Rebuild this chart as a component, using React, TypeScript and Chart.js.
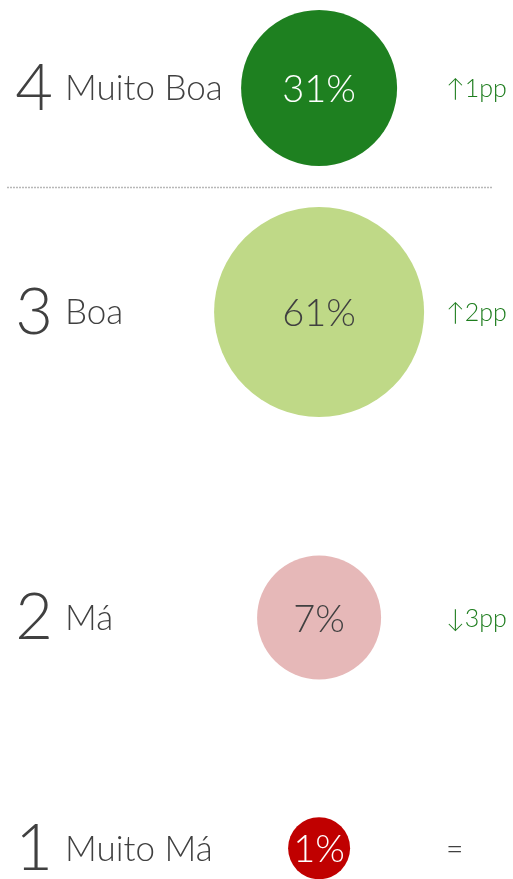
import React, { useEffect, useRef } from "react";
import { Chart, registerables } from "chart.js";

Chart.register(...registerables);

const ranks = ["4", "3", "2", "1"];
const categories = ["Muito Boa", "Boa", "Má", "Muito Má"];
const shares = [31, 61, 7, 1];
const changes = ["↑1pp", "↑2pp", "↓3pp", "="];
const rowLevel = [3.6, 2.58, 1.19, 0.14];

const bubbleColors = ["#1e8020", "#bfd987", "#e6b8b8", "#c00000"];
const bubbleRadius = [78, 105, 62, 31];
const valueColors = ["#ffffff", "#404040", "#404040", "#ffffff"];
const changeColors = ["#1e7d1e", "#1e7d1e", "#1e7d1e", "#404040"];
const FONT = "Lato, 'Open Sans', sans-serif";

const labelPlugin = {
  id: "rowLabels",
  afterDatasetsDraw(chart: any) {
    const ctx = chart.ctx;
    const yScale = chart.scales.y;
    const xScale = chart.scales.x;
    ctx.save();
    const ySep = (yScale.getPixelForValue(rowLevel[0]) + yScale.getPixelForValue(rowLevel[1])) / 2 - 13;
    ctx.strokeStyle = "#b8b8b8";
    ctx.lineWidth = 1.3;
    ctx.setLineDash([2, 1]);
    ctx.beginPath();
    ctx.moveTo(7, Math.round(ySep) + 0.5);
    ctx.lineTo(492, Math.round(ySep) + 0.5);
    ctx.stroke();
    ctx.setLineDash([]);

    ranks.forEach((r, i) => {
      const y = yScale.getPixelForValue(rowLevel[i]);
      const x = xScale.getPixelForValue(0.622);
      ctx.textBaseline = "middle";
      ctx.fillStyle = "#404040";
      ctx.font = `300 65px ${FONT}`;
      ctx.textAlign = "center";
      ctx.fillText(r, 34, y + 1);
      ctx.font = `300 35px ${FONT}`;
      ctx.textAlign = "left";
      ctx.fillText(categories[i], 65, y + 1);
      ctx.fillStyle = valueColors[i];
      ctx.font = `300 38px ${FONT}`;
      ctx.textAlign = "center";
      ctx.fillText(shares[i] + "%", x, y + 2);
      ctx.fillStyle = changeColors[i];
      ctx.font = i === 3 ? `300 30px ${FONT}` : `300 25px ${FONT}`;
      ctx.textAlign = "left";
      ctx.fillText(changes[i], 446, y + 1);
    });
    ctx.restore();
  },
};

export default function App() {
  const ref = useRef<HTMLCanvasElement>(null);
  useEffect(() => {
    if (!ref.current) return;
    const chart = new Chart(ref.current, {
      type: "bubble",
      data: {
        datasets: [
          {
            label: "Avaliação",
            data: shares.map((v, i) => ({ x: 0.622, y: rowLevel[i], r: bubbleRadius[i] })),
            backgroundColor: bubbleColors,
            borderColor: bubbleColors,
            borderWidth: 0,
            hoverRadius: 0,
            clip: false,
          },
        ],
      },
      options: {
        responsive: false,
        animation: false,
        events: [],
        layout: { padding: 0, autoPadding: false },
        plugins: { legend: { display: false }, tooltip: { enabled: false } },
        scales: {
          x: { display: false, min: 0, max: 1 },
          y: { display: false, min: 0, max: 4 },
        },
      },
      plugins: [labelPlugin],
    });
    return () => chart.destroy();
  }, []);
  return (
    <div style={{ position: "absolute", left: 0, top: 0, width: 513, height: 879, background: "#fff" }}>
      <canvas ref={ref} width={513} height={879} style={{ display: "block" }} />
    </div>
  );
}
